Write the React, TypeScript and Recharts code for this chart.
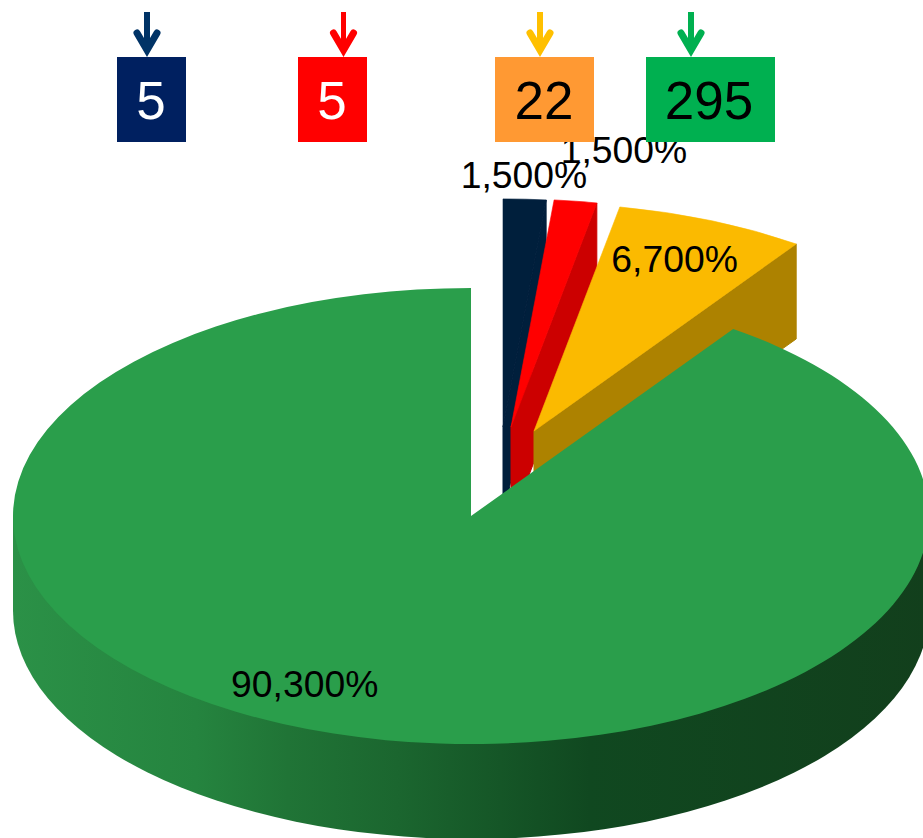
import React from "react";
import { PieChart, Pie, Cell } from "recharts";

const categories = ["Navy", "Red", "Yellow", "Green"];
const shares = [1.5, 1.5, 6.7, 90.3];
const counts = ["5", "5", "22", "295"];

const topColors = ["#001F3C", "#FF0000", "#FBBA00", "#2A9E4B"];
const cutColors = ["#001F3C", "#CC0000", "#AD8200", "#2A9E4B"];
const boxColors = ["#002060", "#FF0000", "#FF9933", "#00B050"];
const arrowColors = ["#003366", "#FF0000", "#FFC000", "#00B050"];
const countColors = ["#FFFFFF", "#FFFFFF", "#000000", "#000000"];

const explodeX = [32, 40, 63, 0];
const explodeY = [-89, -89, -85, 0];
const labelFx = [0.97, 1.75, 0.79, 1.21];
const labelFy = [1.05, 1.17, 0.757, 0.83];
const boxLeft = [117, 298, 495, 646];
const boxWidth = [69, 69, 99, 129];
const countX = [151, 332, 544, 709];
const arrowX = [147, 343.5, 540, 691];
const arrowWidth = [6, 5, 6, 6];

const rows = categories.map((name, i) => ({ name, value: shares[i] }));

const SQUASH = 0.498;
const DEPTH = 95;
const RAD = Math.PI / 180;
const FONT = "'Liberation Sans', Arial, sans-serif";

const pt = (cx: number, cy: number, rx: number, ry: number, a: number) => ({
  x: cx + rx * Math.cos(a * RAD),
  y: cy - ry * Math.sin(a * RAD),
});

function Slice3D(props: any) {
  const { outerRadius, startAngle, endAngle, index } = props;
  const cx = props.cx + explodeX[index];
  const cy = props.cy + explodeY[index];
  const rx = outerRadius;
  const ry = outerRadius * SQUASH;
  const s = pt(cx, cy, rx, ry, startAngle);
  const e = pt(cx, cy, rx, ry, endAngle);
  const large = Math.abs(startAngle - endAngle) > 180 ? 1 : 0;
  const top = `M${cx},${cy} L${s.x},${s.y} A${rx},${ry} 0 ${large} 1 ${e.x},${e.y} Z`;
  const isBig = Math.abs(startAngle - endAngle) > 180;
  const gid = `wall-${index}`;
  return (
    <g>
      {isBig ? (
        <>
          <defs>
            <linearGradient id={gid} gradientUnits="userSpaceOnUse" x1={cx - rx} x2={cx + rx} y1={0} y2={0}>
              <stop offset="0" stopColor="#2B9147" />
              <stop offset="0.2" stopColor="#25843F" />
              <stop offset="0.3" stopColor="#207436" />
              <stop offset="0.42" stopColor="#1B662F" />
              <stop offset="0.63" stopColor="#104820" />
              <stop offset="1" stopColor="#123F1C" />
            </linearGradient>
          </defs>
          <path
            d={`M${cx - rx},${cy} L${cx - rx},${cy + DEPTH} A${rx},${ry} 0 0 0 ${cx + rx},${cy + DEPTH} L${cx + rx},${cy} Z`}
            fill={`url(#${gid})`}
          />
        </>
      ) : (
        <path
          d={`M${cx},${cy} L${e.x},${e.y} L${e.x},${e.y + DEPTH} L${cx},${cy + DEPTH} Z`}
          fill={cutColors[index]}
          stroke={cutColors[index]}
          strokeWidth={1}
        />
      )}
      <path d={top} fill={props.fill} stroke={isBig ? "none" : props.fill} strokeWidth={0.6} />
    </g>
  );
}

function sliceLabel(props: any) {
  const { cx, cy, outerRadius, midAngle, index, value } = props;
  const x = cx + explodeX[index] + labelFx[index] * outerRadius * Math.cos(midAngle * RAD);
  const y = cy + explodeY[index] - labelFy[index] * outerRadius * SQUASH * Math.sin(midAngle * RAD);
  return (
    <text key={index} x={x} y={y} textAnchor="middle" fontFamily={FONT} fontSize={37.3} fill="#000000">
      {Number(value).toFixed(3).replace(".", ",") + "%"}
    </text>
  );
}

export default function App() {
  return (
    <div style={{ position: "absolute", left: 0, top: 0, width: 923, height: 838, overflow: "hidden", background: "#fff" }}>
      <PieChart width={923} height={838} margin={{ top: 0, right: 0, bottom: 0, left: 0 }}>
        <Pie
          data={rows}
          dataKey="value"
          nameKey="name"
          cx={471}
          cy={516}
          innerRadius={0}
          outerRadius={458}
          startAngle={90}
          endAngle={-270}
          stroke="none"
          paddingAngle={0}
          isAnimationActive={false}
          shape={Slice3D}
          label={sliceLabel}
          labelLine={false}
        >
          {rows.map((r, i) => (
            <Cell key={r.name} fill={topColors[i]} />
          ))}
        </Pie>
      </PieChart>
      <svg width={923} height={838} style={{ position: "absolute", left: 0, top: 0 }}>
        {categories.map((c, i) => (
          <g key={c}>
            <line x1={arrowX[i]} y1={12} x2={arrowX[i]} y2={50} stroke={arrowColors[i]} strokeWidth={arrowWidth[i]} />
            <path
              d={`M${arrowX[i] - 10},33 L${arrowX[i]},50 L${arrowX[i] + 10},33`}
              fill="none"
              stroke={arrowColors[i]}
              strokeWidth={7}
              strokeLinecap="round"
              strokeLinejoin="miter"
            />
            <rect x={boxLeft[i]} y={57} width={boxWidth[i]} height={85} fill={boxColors[i]} />
            <text x={countX[i]} y={119} textAnchor="middle" fontFamily={FONT} fontSize={53} fill={countColors[i]}>
              {counts[i]}
            </text>
          </g>
        ))}
      </svg>
    </div>
  );
}
